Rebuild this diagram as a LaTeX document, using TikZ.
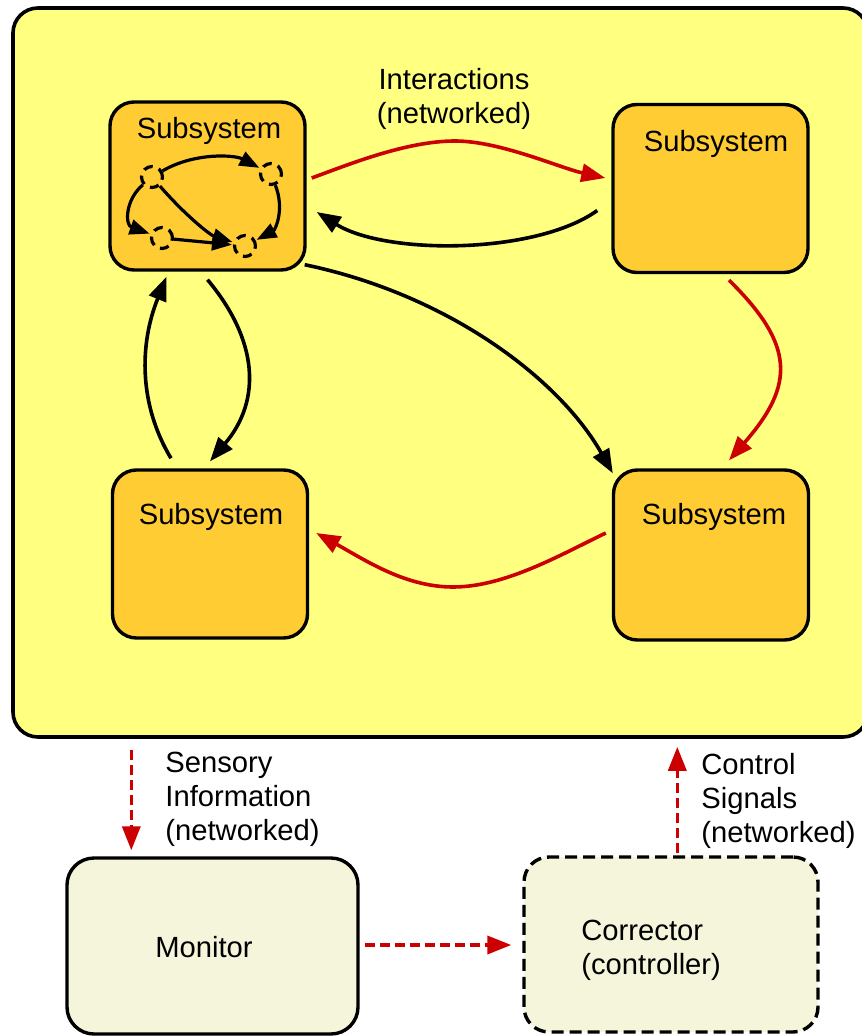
\documentclass[tikz,border=0pt]{standalone}
\usepackage{fontspec}
\setmainfont{Liberation Sans}
\usetikzlibrary{arrows.meta,calc}
\definecolor{bigfill}{RGB}{255,255,128}
\definecolor{subfill}{RGB}{255,204,51}
\definecolor{monfill}{RGB}{245,245,220}
\definecolor{darkred}{RGB}{204,0,0}
\tikzset{
 bx/.style={draw, line width=1.7pt, rounded corners=12pt, fill=subfill, inner sep=0pt},
 sub/.style={bx, minimum width=97.5pt, minimum height=84pt},
 arr/.style={line width=1.8pt, -{Triangle[length=12pt,width=9pt]}},
 redarr/.style={arr, draw=darkred},
 dred/.style={arr, draw=darkred, dash pattern=on 5pt off 2.5pt},
 sm/.style={circle, draw, line width=1.6pt, dash pattern=on 4.6pt off 3.25pt, minimum size=10.5pt, inner sep=0pt},
 smarr/.style={line width=1.6pt, -{Triangle[length=10pt,width=7.5pt]}, shorten >=0.5pt},
 txt/.style={inner sep=0pt, align=left},
}
\begin{document}
\begin{tikzpicture}[x=0.5pt,y=-0.5pt, font=\fontsize{14.6pt}{17pt}\selectfont]
\useasboundingbox (0,0) rectangle (861,1036);
% big system box
\node[bx, fill=bigfill, line width=1.8pt, rounded corners=12.5pt, minimum width=427.5pt, minimum height=364.5pt] (big) at (440.5,372.5) {};
% subsystems
\node[sub] (tl) at (207.5,186) {};
\node[sub] (tr) at (710.5,188.5) {};
\node[sub] (bl) at (210,554) {};
\node[sub, minimum height=85pt] (br) at (711,555) {};
\node[txt] (tlt) at (209,131) {Subsystem};
\node[txt] (trt) at (716,144) {Subsystem};
\node[txt] (blt) at (211,517) {Subsystem};
\node[txt] (brt) at (714,517) {Subsystem};
% inner graph
\node[sm] (a) at (152,177) {};
\node[sm] (b) at (271,174) {};
\node[sm] (c) at (162,238) {};
\node[sm] (d) at (245,246) {};
\draw[smarr] (a) .. controls (195,152) and (235,155) .. (b);
\draw[smarr] (a) .. controls (185,215) and (210,235) .. (d);
\draw[smarr] (a) .. controls (125,200) and (125,225) .. (c);
\draw[smarr] (c) -- (d);
\draw[smarr] (b) .. controls (285,210) and (275,230) .. (d);
% interactions
\node[txt, align=center] (inter) at (454,98.5) {Interactions\\(networked)};
\draw[redarr] ($(tl.east)+(5,-8)$) .. controls (345,166) and (405,141) .. (455,141) .. controls (500,141) and (560,168) .. ($(tr.west)+(-6,-10.5)$);
\draw[arr] ($(tr.west)+(-14,22)$) .. controls (535,255) and (385,255) .. ($(tl.east)+(10,26)$);
\draw[arr] ($(tl.south east)+(-2,-7)$) .. controls (450,295) and (560,380) .. ($(br.north west)+(1,5)$);
\draw[redarr] ($(tr.south)+(18.5,6)$) .. controls (795,345) and (795,385) .. ($(br.north)+(18,-8)$);
\draw[redarr] ($(br.west)+(-6,-22)$) .. controls (560,555) and (505,587) .. (453,587) .. controls (405,587) and (365,560) .. ($(bl.east)+(7,-21)$);
\draw[arr] ($(bl.north)+(-39,-10)$) .. controls (139,405) and (139,345) .. ($(tl.south)+(-41,5)$);
\draw[arr] ($(tl.south)+(0,8)$) .. controls (258,340) and (262,400) .. ($(bl.north)+(0,-7)$);
% monitor and corrector
\node[bx, fill=monfill, rounded corners=13.5pt, minimum width=145.5pt, minimum height=88pt] (mon) at (212.5,946) {};
\node[txt] (mont) at (204,947) {Monitor};
\node[bx, fill=monfill, dash pattern=on 6pt off 3pt, rounded corners=12.5pt, minimum width=147pt, minimum height=87.5pt] (cor) at (671,944.5) {};
\node[txt, anchor=west] (cort) at (581,950.5) {Corrector\\(controller)};
\node[txt, anchor=west] (sens) at (165,799) {Sensory\\Information\\(networked)};
\node[txt, anchor=west] (ctrl) at (701,801) {Control\\Signals\\(networked)};
\coordinate (sx) at ($(mon.north west)+(66,0)$);
\draw[dred] ($(big.south -| sx)+(0,11)$) -- ($(sx)+(0,-6)$);
\draw[dred] ($(mon.east)+(5,-1)$) -- ($(cor.west |- mon.east)+(-11,-1)$);
\coordinate (cx) at ($(cor.north west)+(155,0)$);
\draw[dred] ($(cx)+(0,-2)$) -- ($(big.south -| cx)+(0,8)$);
\end{tikzpicture}
\end{document}
